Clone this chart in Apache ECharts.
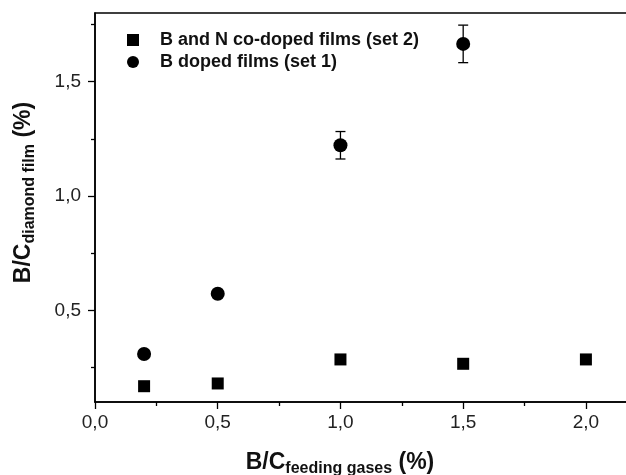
<!DOCTYPE html>
<html>
<head>
<meta charset="utf-8">
<script src="https://cdn.jsdelivr.net/npm/echarts@6/dist/echarts.min.js"></script>
<style>
  html, body { margin: 0; padding: 0; background: #fff; }
  #chart { width: 626px; height: 475px; }
</style>
</head>
<body>
<div id="chart"></div>
<script>
// set 1: B doped films (circles, with error bars)
const xSet1 = [0.2, 0.5, 1.0, 1.5];
const ySet1 = [0.31, 0.573, 1.222, 1.665];
const errSet1 = [0.012, 0.015, 0.06, 0.082];
// set 2: B and N co-doped films (squares)
const xSet2 = [0.2, 0.5, 1.0, 1.5, 2.0];
const ySet2 = [0.169, 0.181, 0.286, 0.267, 0.286];

const xMajor = [0, 0.5, 1.0, 1.5, 2.0];
const xMinor = [0.25, 0.75, 1.25, 1.75];
const yMajor = [0.5, 1.0, 1.5];
const yMinor = [0.25, 0.75, 1.25, 1.75];

const FONT = 'Liberation Sans, Arial, sans-serif';
const fmt = v => v.toFixed(1).replace('.', ',');

const gridBox = { left: 95, top: 13, right: -9, bottom: 73, containLabel: false, outerBoundsMode: 'none' };

const set1 = xSet1.map((x, i) => [x, ySet1[i]]);
const set2 = xSet2.map((x, i) => [x, ySet2[i]]);
const bars = xSet1.map((x, i) => [x, ySet1[i] - errSet1[i], ySet1[i] + errSet1[i]]);

const option = {
  backgroundColor: '#fff',
  animation: false,
  grid: [
    Object.assign({ show: true, borderColor: '#000', borderWidth: 1.5, backgroundColor: 'transparent' }, gridBox),
    Object.assign({}, gridBox)
  ],
  legend: {
    orient: 'vertical',
    left: 122,
    top: 26,
    itemWidth: 12,
    itemHeight: 12,
    itemGap: 4,
    data: ['B and N co-doped films (set 2)', 'B doped films (set 1)'],
    textStyle: { fontFamily: FONT, fontSize: 18, fontWeight: 'bold', color: '#111', padding: [0, 0, 0, 16] }
  },
  xAxis: [
    {
      type: 'value', gridIndex: 0, min: 0, max: 2.2,
      splitLine: { show: false },
      axisLine: { lineStyle: { color: '#000', width: 1.5 } },
      axisTick: { customValues: xMajor, length: 7, lineStyle: { color: '#000', width: 1.3 } },
      axisLabel: { customValues: xMajor, formatter: fmt, margin: 11, fontFamily: FONT, fontSize: 19, color: '#222' },
      name: '{m|B/C}{s|feeding gases}{m| (%)}',
      nameLocation: 'middle',
      nameGap: 46,
      nameTextStyle: {
        padding: [0, 50, 0, 0],
        rich: {
          m: { fontFamily: FONT, fontSize: 23, fontWeight: 'bold', color: '#111' },
          s: { fontFamily: FONT, fontSize: 16, fontWeight: 'bold', color: '#111', verticalAlign: 'top', padding: [13, 0, 0, 0] }
        }
      }
    },
    {
      type: 'value', gridIndex: 1, min: 0, max: 2.2,
      splitLine: { show: false },
      axisLine: { show: false },
      axisTick: { customValues: xMinor, length: 4, lineStyle: { color: '#000', width: 1.3 } },
      axisLabel: { show: false }
    }
  ],
  yAxis: [
    {
      type: 'value', gridIndex: 0, min: 0.1, max: 1.8,
      splitLine: { show: false },
      axisLine: { lineStyle: { color: '#000', width: 1.5 } },
      axisTick: { customValues: yMajor, length: 7, lineStyle: { color: '#000', width: 1.3 } },
      axisLabel: { customValues: yMajor, formatter: fmt, margin: 14, fontFamily: FONT, fontSize: 19, color: '#222' },
      name: '{m|B/C}{s|diamond film}{m| (%)}',
      nameLocation: 'middle',
      nameGap: 57,
      nameTextStyle: {
        padding: [0, 0, 0, 30],
        rich: {
          m: { fontFamily: FONT, fontSize: 23, fontWeight: 'bold', color: '#111' },
          s: { fontFamily: FONT, fontSize: 16, fontWeight: 'bold', color: '#111', verticalAlign: 'top', padding: [13, 0, 0, 0] }
        }
      }
    },
    {
      type: 'value', gridIndex: 1, min: 0.1, max: 1.8,
      splitLine: { show: false },
      axisLine: { show: false },
      axisTick: { customValues: yMinor, length: 4, lineStyle: { color: '#000', width: 1.3 } },
      axisLabel: { show: false }
    }
  ],
  series: [
    {
      name: 'B and N co-doped films (set 2)',
      type: 'scatter',
      symbol: 'rect',
      symbolSize: 12,
      itemStyle: { color: '#000', opacity: 1 },
      data: set2,
      z: 3
    },
    {
      name: 'B doped films (set 1)',
      type: 'scatter',
      symbol: 'circle',
      symbolSize: 14,
      itemStyle: { color: '#000', opacity: 1 },
      data: set1,
      z: 3
    },
    {
      name: 'err',
      type: 'custom',
      data: bars,
      z: 2,
      renderItem: function (params, api) {
        const x = api.value(0);
        const lo = api.coord([x, api.value(1)]);
        const hi = api.coord([x, api.value(2)]);
        const w = 5;
        const st = { stroke: '#000', lineWidth: 1.3 };
        return {
          type: 'group',
          children: [
            { type: 'line', shape: { x1: hi[0], y1: hi[1], x2: lo[0], y2: lo[1] }, style: st },
            { type: 'line', shape: { x1: hi[0] - w, y1: hi[1], x2: hi[0] + w, y2: hi[1] }, style: st },
            { type: 'line', shape: { x1: lo[0] - w, y1: lo[1], x2: lo[0] + w, y2: lo[1] }, style: st }
          ]
        };
      }
    }
  ]
};

const chart = echarts.init(document.getElementById('chart'));
chart.setOption(option);
</script>
</body>
</html>
